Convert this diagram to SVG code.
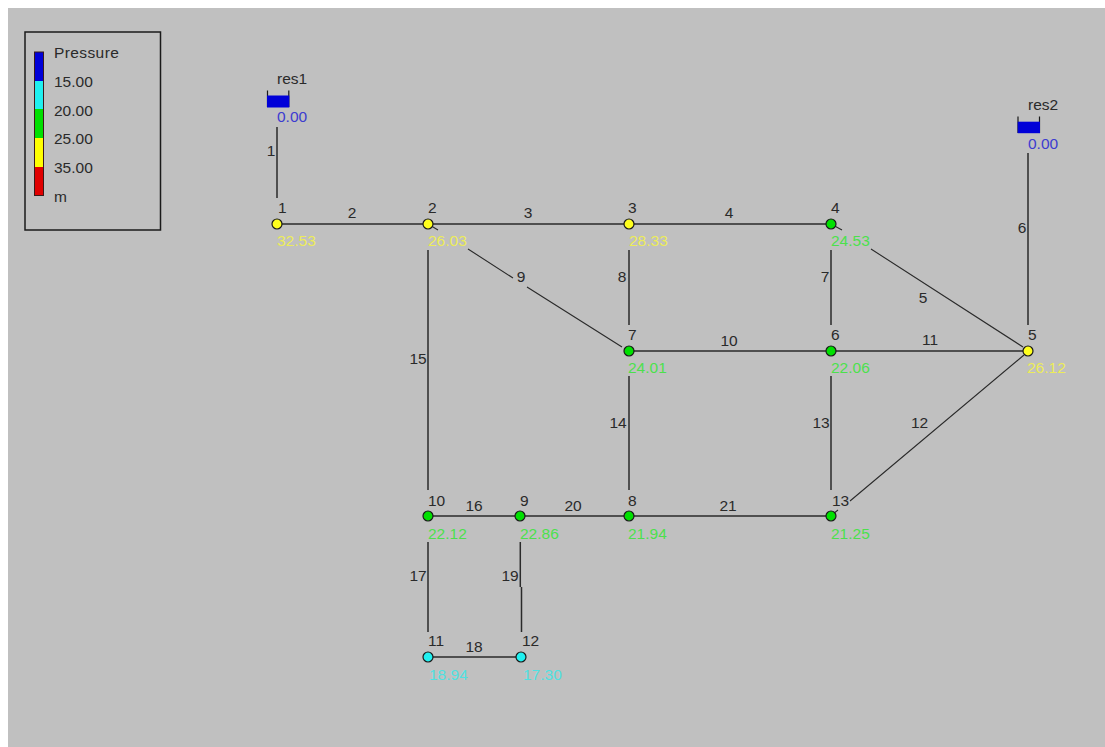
<svg xmlns="http://www.w3.org/2000/svg" width="1105" height="747" viewBox="0 0 1105 747">
<style>
text{font-family:"Liberation Sans",Arial,sans-serif;font-size:15.500px;fill:#2a2a2a}
.y{fill:#ecec58}.g{fill:#4ce04c}.c{fill:#50e0e0}.b{fill:#3c3cd0}
.pipe{stroke:#2a2a2a;stroke-width:1.500;fill:none}
.diag{stroke:#2a2a2a;stroke-width:1.100;fill:none}
.j{stroke:#1a1a1a;stroke-width:1.200}
.jy{fill:#ffff1e}.jg{fill:#00e000}.jc{fill:#20f0f0}
.num{text-anchor:middle}
.wall{fill:none;stroke:#1a1a1a;stroke-width:1.200}
.tank{fill:#0000d8}
</style>
<rect x="0" y="0" width="1105" height="747" fill="#ffffff"/>
<rect x="8" y="8" width="1097" height="739" fill="#c0c0c0"/>
<g id="legend">
<rect x="25" y="32" width="135.500" height="198" fill="none" stroke="#1a1a1a" stroke-width="1.500"/>
<rect x="34.500" y="52" width="9" height="29" fill="#0000d8"/>
<rect x="34.500" y="81" width="9" height="28" fill="#20f0f0"/>
<rect x="34.500" y="109" width="9" height="29" fill="#00e000"/>
<rect x="34.500" y="138" width="9" height="29" fill="#ffff00"/>
<rect x="34.500" y="167" width="9" height="28.500" fill="#e00000"/>
<rect x="34.500" y="52" width="9" height="143.500" fill="none" stroke="#3a1a1a" stroke-width="1"/>
<text x="54" y="58" letter-spacing="0.400">Pressure</text>
<text x="54" y="87">15.00</text>
<text x="54" y="115.500">20.00</text>
<text x="54" y="144">25.00</text>
<text x="54" y="172.500">35.00</text>
<text x="54" y="202">m</text>
</g>
<g id="connectors">
<g class="pipe">
<path d="M277 127V198"/>
<path d="M277 224H428"/>
<path d="M428 224H629"/>
<path d="M629 224H831"/>
<path d="M1028 153V325"/>
<path d="M831 250V325"/>
<path d="M629 250V325"/>
<path d="M629 351H831"/>
<path d="M831 351H1028"/>
<path d="M831 376V490"/>
<path d="M629 376V490"/>
<path d="M428 250V490"/>
<path d="M428 516H521"/>
<path d="M428 542V632"/>
<path d="M428 657H521"/>
<path d="M520.300 542V587M521.500 587V632"/>
<path d="M521 516H629"/>
<path d="M629 516H831"/>
</g>
<g class="diag">
<path d="M831 224L842 230M871 249L1023 347"/>
<path d="M428 224L438 230M468 249L513 278M527 287L622 347"/>
<path d="M1024 355L850 501M838 510L833 514"/>
</g>
</g>
<g id="res1">
<path class="wall" d="M267.500 90.500V107M288.800 90.500V107"/>
<rect class="tank" x="267" y="95.500" width="22.300" height="12"/>
<text x="277" y="83.500">res1</text>
<text class="b" x="277" y="121.500">0.00</text>
</g>
<g id="res2">
<path class="wall" d="M1018 116.500V133M1039.500 116.500V133"/>
<rect class="tank" x="1017.700" y="121.700" width="22.300" height="11.500"/>
<text x="1028" y="109.500">res2</text>
<text class="b" x="1028" y="148.500">0.00</text>
</g>
<g id="n1"><circle class="j jy" cx="277" cy="224" r="5"/><text x="278" y="212.500">1</text><text class="y" x="277" y="245.500">32.53</text></g>
<g id="n2"><circle class="j jy" cx="428" cy="224" r="5"/><text x="428" y="212.500">2</text><text class="y" x="428" y="245.500">26.03</text></g>
<g id="n3"><circle class="j jy" cx="629" cy="224" r="5"/><text x="628" y="212.500">3</text><text class="y" x="629" y="245.500">28.33</text></g>
<g id="n4"><circle class="j jg" cx="831" cy="224" r="5"/><text x="831" y="212.500">4</text><text class="g" x="831" y="245.500">24.53</text></g>
<g id="n5"><circle class="j jy" cx="1028" cy="351" r="5"/><text x="1028" y="340">5</text><text class="y" x="1027" y="372.500">26.12</text></g>
<g id="n6"><circle class="j jg" cx="831" cy="351" r="5"/><text x="831" y="340">6</text><text class="g" x="831" y="372.500">22.06</text></g>
<g id="n7"><circle class="j jg" cx="629" cy="351" r="5"/><text x="628" y="340">7</text><text class="g" x="628" y="372.500">24.01</text></g>
<g id="n8"><circle class="j jg" cx="629" cy="516" r="5"/><text x="628" y="505.500">8</text><text class="g" x="628" y="538.500">21.94</text></g>
<g id="n9"><circle class="j jg" cx="520" cy="516" r="5"/><text x="520" y="505.500">9</text><text class="g" x="520" y="538.500">22.86</text></g>
<g id="n10"><circle class="j jg" cx="428" cy="516" r="5"/><text x="428" y="505.500">10</text><text class="g" x="428" y="538.500">22.12</text></g>
<g id="n11"><circle class="j jc" cx="428" cy="657" r="5"/><text x="428" y="645.500">11</text><text class="c" x="429" y="679.500">18.94</text></g>
<g id="n12"><circle class="j jc" cx="521" cy="657" r="5"/><text x="522" y="645.500">12</text><text class="c" x="523" y="679.500">17.30</text></g>
<g id="n13"><circle class="j jg" cx="831" cy="516" r="5"/><text x="832" y="505.500">13</text><text class="g" x="831" y="538.500">21.25</text></g>
<g id="pipe-labels" class="num">
<text x="271" y="156">1</text><text x="352" y="217.500">2</text><text x="528" y="217.500">3</text><text x="729" y="217.500">4</text>
<text x="923" y="303">5</text><text x="1022" y="233">6</text><text x="825" y="282">7</text><text x="622" y="282">8</text>
<text x="521" y="282">9</text><text x="729" y="345.500">10</text><text x="930" y="345">11</text><text x="919.500" y="427.500">12</text>
<text x="821" y="428">13</text><text x="618" y="428">14</text><text x="418" y="364">15</text><text x="474" y="511">16</text>
<text x="418" y="581">17</text><text x="474" y="652">18</text><text x="510" y="581">19</text><text x="573" y="511">20</text><text x="728" y="511">21</text>
</g>
</svg>
